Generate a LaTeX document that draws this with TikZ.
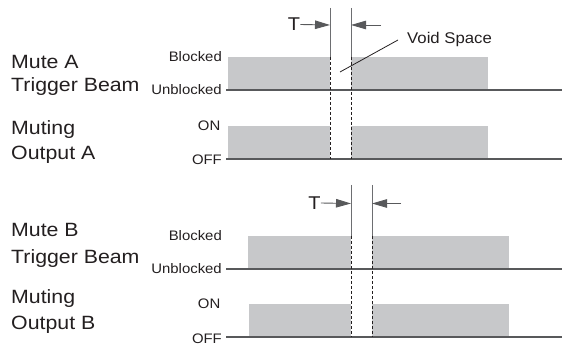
\documentclass[tikz,border=0pt]{standalone}
\usepackage{fontspec}
\setmainfont[FakeStretch=1.08]{Liberation Sans}
\newfontfamily\bigfont[FakeStretch=1.11]{Liberation Sans}
\usetikzlibrary{arrows.meta}
\definecolor{txt}{HTML}{231F20}
\definecolor{pulsegray}{HTML}{C7C8CA}
\definecolor{axisgray}{HTML}{58595B}
\definecolor{edgegray}{HTML}{6D6E71}
\begin{document}
\begin{tikzpicture}[x=1pt,y=-1pt,
  biglab/.style={anchor=base west, inner sep=0pt, font=\bigfont\fontsize{19.2}{22}\selectfont, text=txt},
  lvl/.style={anchor=east, inner sep=0pt, font=\fontsize{13.8}{16}\selectfont, text=txt},
  tlab/.style={inner sep=0pt, font=\fontsize{18.5}{22}\selectfont, text=txt},
  pulse/.style={fill=pulsegray, draw=none},
  axisline/.style={draw=axisgray, line width=2pt},
  edgeline/.style={draw=edgegray, line width=0.9pt},
  guide/.style={draw=txt, line width=0.8pt, dash pattern=on 3pt off 2pt},
  tarrow/.style={draw=axisgray, line width=0.9pt, -{Triangle[length=15pt,width=8.5pt]}}]
\useasboundingbox (0,0) rectangle (562,347);

% ---------------- Section A ----------------
\fill[pulse] (228,57) rectangle (330,90);
\fill[pulse] (351,57) rectangle (488,90);
\fill[pulse] (228,126) rectangle (330,159);
\fill[pulse] (351,126) rectangle (488,159);

\coordinate (aL0) at (226,90);  \coordinate (aR0) at (562,90);
\coordinate (aL1) at (226,159); \coordinate (aR1) at (562,159);
\draw[axisline] (aL0) -- (aR0);
\draw[axisline] (aL1) -- (aR1);

\coordinate (a1top) at (330,8);  \coordinate (a1mid) at (330,57); \coordinate (a1bot) at (330,159);
\coordinate (a2top) at (351,8);  \coordinate (a2mid) at (351,57); \coordinate (a2bot) at (351,159);
\draw[edgeline] (a1top) -- (a1mid);
\draw[edgeline] (a2top) -- (a2mid);
\draw[guide] (a1mid) -- (a1bot);
\draw[guide] (a2mid) -- (a2bot);

\node[tlab] (tA) at (294,24.5) {T};
\coordinate (tA1) at (330,25);
\coordinate (tA2s) at (381,25);
\coordinate (tA2) at (351,25);
\draw[tarrow] (tA.east) -- (tA1);
\draw[tarrow] (tA2s) -- (tA2);

\node[anchor=west, inner sep=0pt, font=\fontsize{15.5}{18}\selectfont, text=txt] (void) at (407,39) {Void Space};
\coordinate (voidS) at (398,40);
\coordinate (voidE) at (340,72);
\draw[txt, line width=0.8pt] (voidS) -- (voidE);

\node[biglab] (muteA) at (11,68.3) {Mute A};
\node[biglab] (trigA) at (11,91.7) {Trigger Beam};
\node[biglab] (mutgA) at (11,134.3) {Muting};
\node[biglab] (outA) at (11,159.3) {Output A};

\node[lvl] (blkA) at (222,56.5) {Blocked};
\node[lvl] (ublA) at (222,89.5) {Unblocked};
\node[lvl] (onA) at (220.5,126) {ON};
\node[lvl] (offA) at (222,160) {OFF};

% ---------------- Section B ----------------
\fill[pulse] (248,236) rectangle (351,269);
\fill[pulse] (372,236) rectangle (509,269);
\fill[pulse] (249,304) rectangle (351,337);
\fill[pulse] (372,304) rectangle (509,337);

\coordinate (bL0) at (226,269); \coordinate (bR0) at (562,269);
\coordinate (bL1) at (226,337); \coordinate (bR1) at (562,337);
\draw[axisline] (bL0) -- (bR0);
\draw[axisline] (bL1) -- (bR1);

\coordinate (b1top) at (351,185); \coordinate (b1mid) at (351,236); \coordinate (b1bot) at (351,337);
\coordinate (b2top) at (372,185); \coordinate (b2mid) at (372,236); \coordinate (b2bot) at (372,337);
\draw[edgeline] (b1top) -- (b1mid);
\draw[edgeline] (b2top) -- (b2mid);
\draw[guide] (b1mid) -- (b1bot);
\draw[guide] (b2mid) -- (b2bot);

\node[tlab] (tB) at (314.5,203) {T};
\coordinate (tB1) at (351,203.5);
\coordinate (tB2s) at (401,203.5);
\coordinate (tB2) at (372,203.5);
\draw[tarrow] (tB.east) -- (tB1);
\draw[tarrow] (tB2s) -- (tB2);

\node[biglab] (muteB) at (11,236.7) {Mute B};
\node[biglab] (trigB) at (11,263.3) {Trigger Beam};
\node[biglab] (mutgB) at (11,304) {Muting};
\node[biglab] (outB) at (11,329.3) {Output B};

\node[lvl] (blkB) at (222,235.5) {Blocked};
\node[lvl] (ublB) at (222,268.5) {Unblocked};
\node[lvl] (onB) at (220.5,304) {ON};
\node[lvl] (offB) at (222,339) {OFF};
\end{tikzpicture}
\end{document}
